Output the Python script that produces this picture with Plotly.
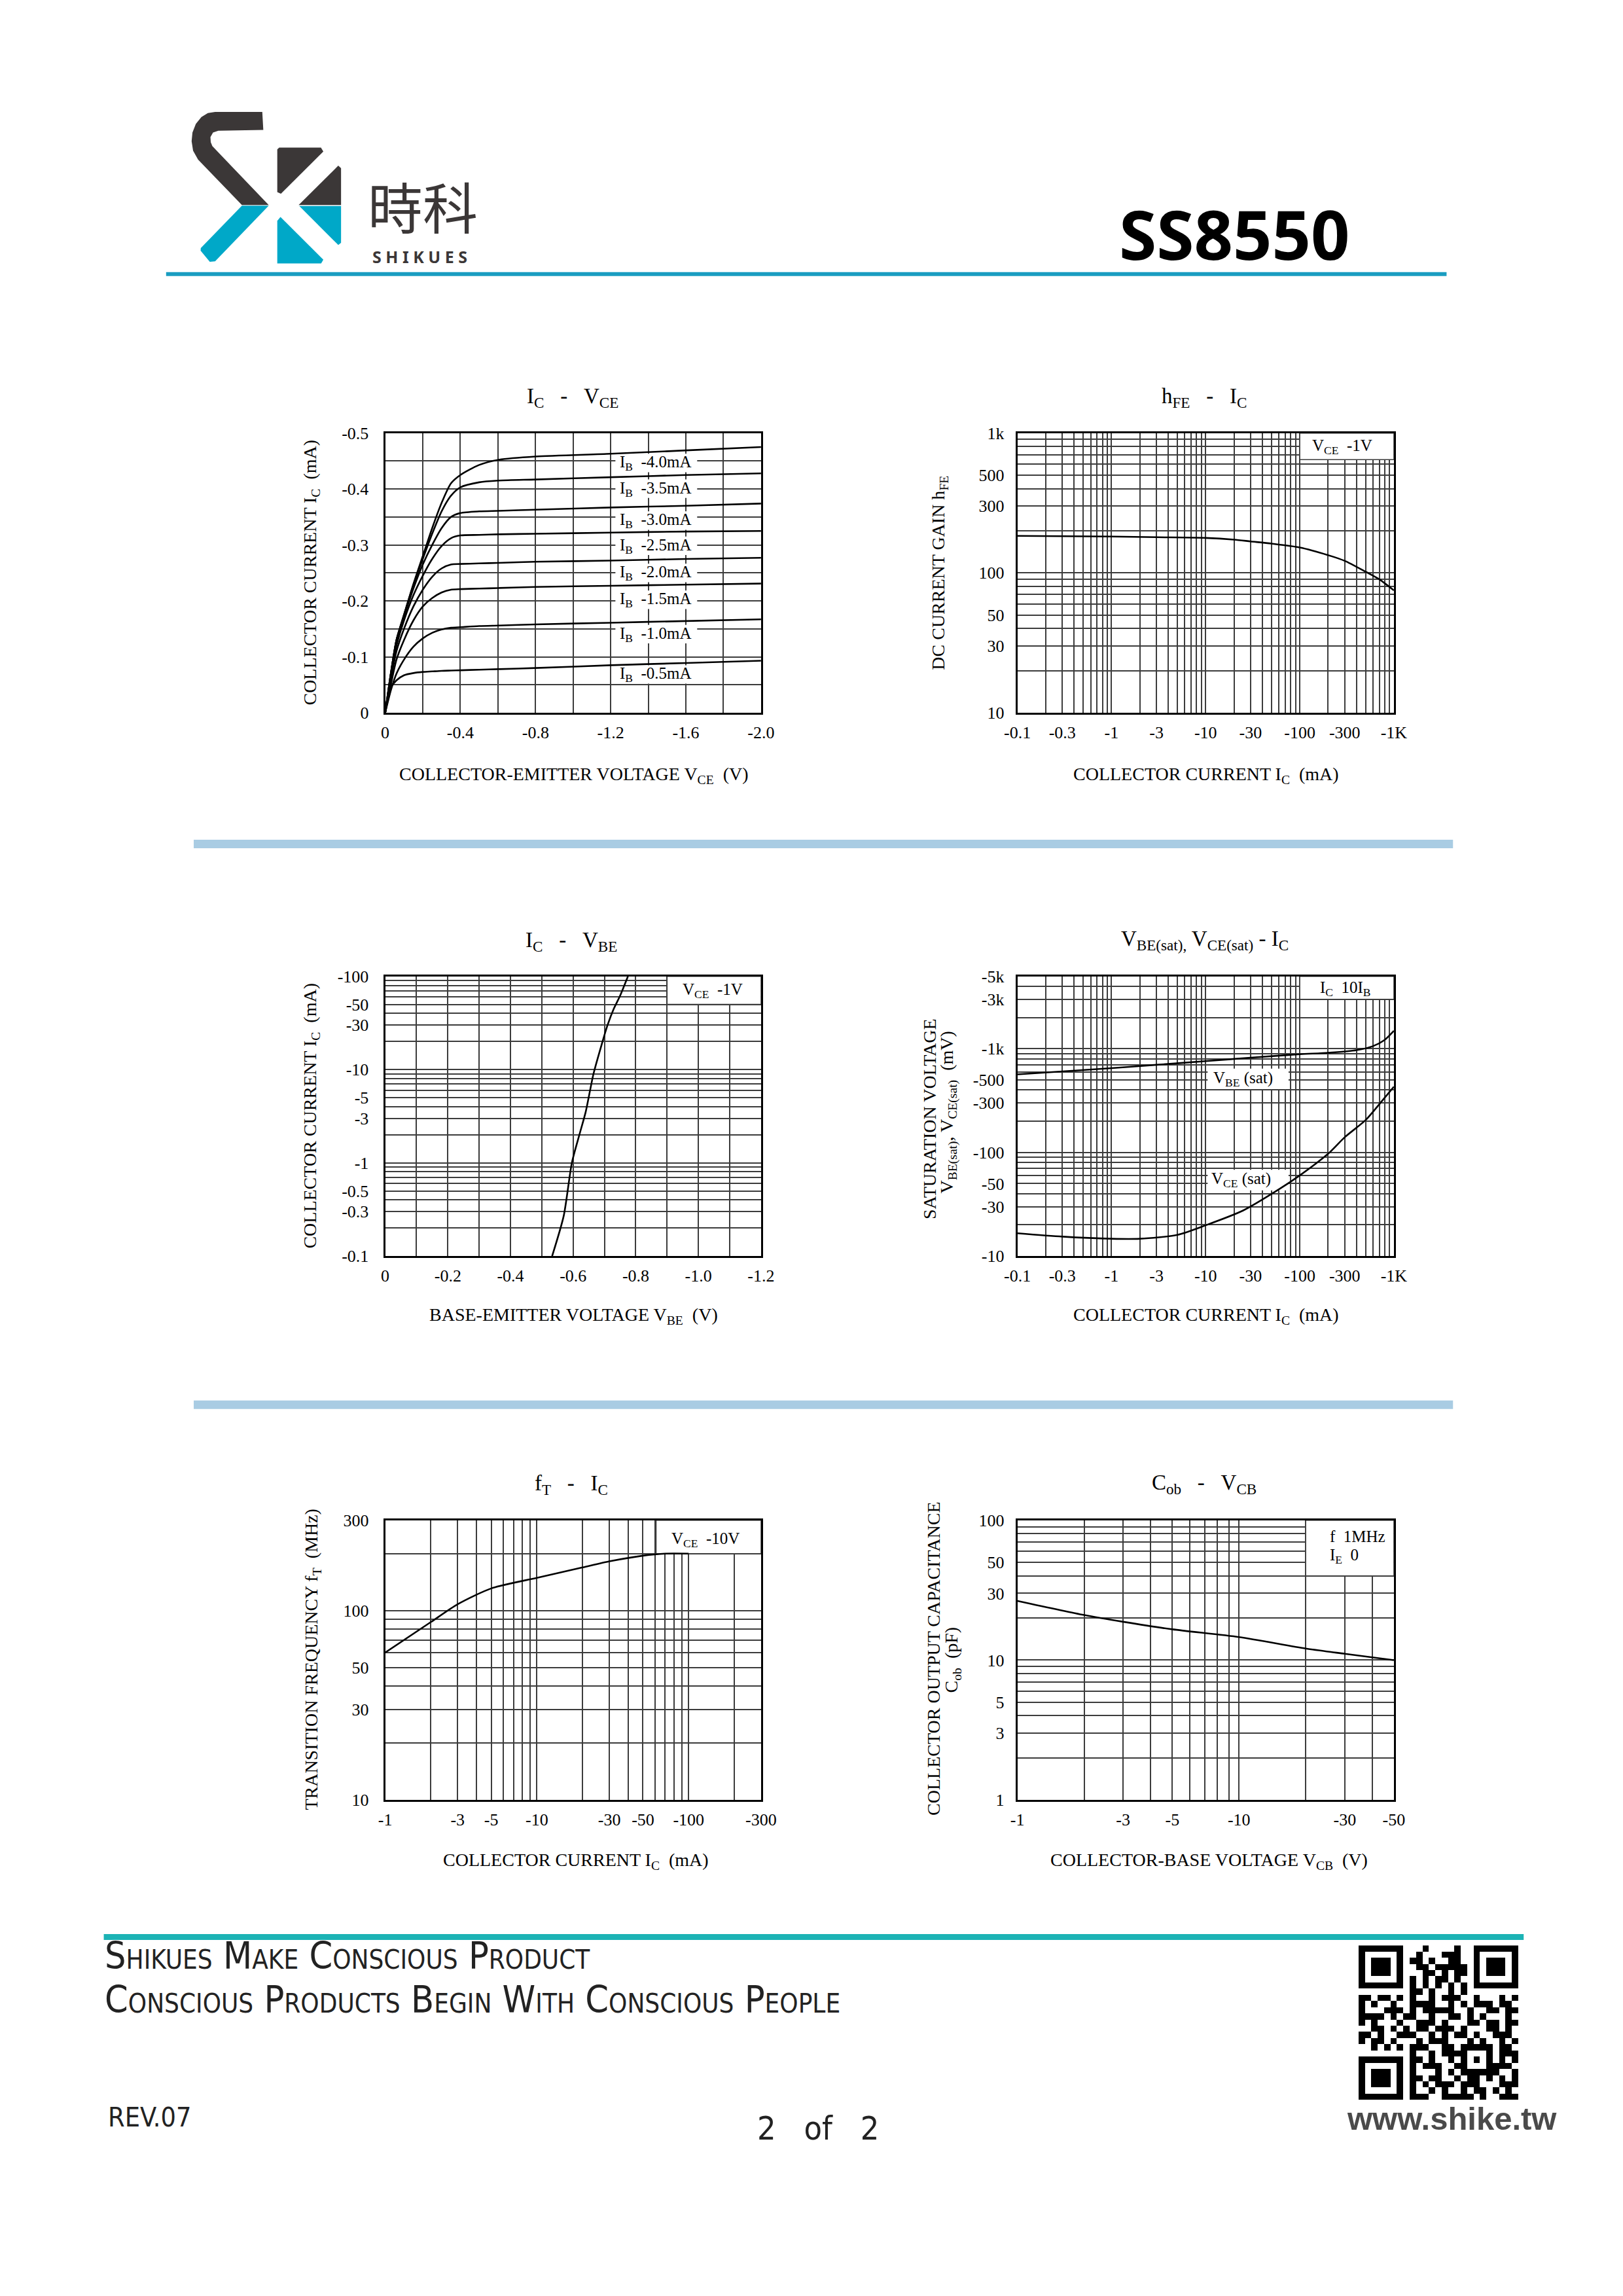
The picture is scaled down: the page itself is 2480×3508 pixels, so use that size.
import math
import plotly.graph_objects as go

# page size and the figure size (the page keeps its default 8px body margin)
W, H = 2480, 3508
PAD = 8
FW, FH = W - 2 * PAD, H - 2 * PAD
SERIF = "Liberation Serif"
DARK = "#3b3737"
CYAN = "#00a8c8"
GRID = "#3c3c3c"
NB = "\u00a0"

# ---------------- values ----------------
# Ic - Vce  (magnitudes, drawn as negative numbers)
vce_v = [0, 0.03, 0.06, 0.1, 0.15, 0.2, 0.25, 0.3, 0.35, 0.4, 0.5, 0.6, 0.8, 1.2, 1.6, 2.0]
ic_ib40 = [0, 0.07, 0.13, 0.175, 0.23, 0.28, 0.33, 0.375, 0.41, 0.425, 0.443, 0.452, 0.458, 0.463, 0.469, 0.475]
ic_ib35 = [0, 0.07, 0.13, 0.175, 0.228, 0.275, 0.32, 0.36, 0.388, 0.403, 0.412, 0.415, 0.417, 0.421, 0.425, 0.428]
ic_ib30 = [0, 0.07, 0.13, 0.172, 0.222, 0.265, 0.3, 0.33, 0.35, 0.357, 0.36, 0.361, 0.363, 0.367, 0.37, 0.374]
ic_ib25 = [0, 0.065, 0.12, 0.165, 0.21, 0.245, 0.275, 0.298, 0.312, 0.317, 0.318, 0.319, 0.32, 0.322, 0.324, 0.325]
ic_ib20 = [0, 0.06, 0.11, 0.15, 0.19, 0.22, 0.243, 0.258, 0.265, 0.266, 0.267, 0.268, 0.27, 0.272, 0.275, 0.277]
ic_ib15 = [0, 0.05, 0.095, 0.13, 0.165, 0.19, 0.205, 0.215, 0.22, 0.221, 0.222, 0.223, 0.225, 0.227, 0.229, 0.231]
ic_ib10 = [0, 0.04, 0.07, 0.095, 0.118, 0.133, 0.143, 0.149, 0.152, 0.153, 0.155, 0.156, 0.158, 0.161, 0.164, 0.167]
ic_ib05 = [0, 0.045, 0.058, 0.067, 0.071, 0.073, 0.074, 0.075, 0.0755, 0.076, 0.077, 0.078, 0.08, 0.085, 0.089, 0.093]
ib_names = ["-4.0mA", "-3.5mA", "-3.0mA", "-2.5mA", "-2.0mA", "-1.5mA", "-1.0mA", "-0.5mA"]
ib_label_y = [0.446, 0.400, 0.343, 0.298, 0.2495, 0.2015, 0.140, 0.068]

# hFE - Ic
hfe_ic = [0.1, 0.3, 1, 3, 10, 20, 30, 50, 100, 200, 300, 500, 700, 1000]
hfe_val = [184, 183, 182, 180, 178, 173, 168, 162, 152, 134, 122, 102, 90, 75]

# Ic - Vbe
vbe_v = [0.533, 0.57, 0.596, 0.62, 0.64, 0.665, 0.69, 0.71, 0.73, 0.75, 0.775]
vbe_ic = [0.1, 0.27, 1, 2, 3.5, 9, 18, 30, 45, 62, 100]

# Vbe(sat), Vce(sat) - Ic
sat_ic = [0.1, 0.3, 1, 3, 10, 30, 100, 200, 400, 600, 800, 1000]
vbe_sat = [566, 605, 650, 700, 760, 820, 885, 915, 970, 1060, 1220, 1490]
vcesat_ic = [0.1, 0.3, 1, 2, 5, 10, 25, 60, 100, 200, 300, 500, 750, 1000]
vce_sat = [16.6, 15.4, 14.7, 14.7, 16, 19.8, 27.5, 44, 60, 97, 140, 205, 315, 430]

# fT - Ic
ft_ic = [1, 2, 3, 5, 10, 20, 30, 50, 70, 100]
ft_val = [60, 87, 108, 131, 149, 169, 182, 195, 200, 200]

# Cob - Vcb
cob_v = [1, 2, 3, 5, 10, 20, 30, 50]
cob_c = [26.5, 21, 18.8, 16.6, 14.6, 12.1, 11.1, 10.0]

# tick labels
ic_log_ticks = [0.1, 0.3, 1, 3, 10, 30, 100, 300, 1000]
ic_log_text = ["-0.1", "-0.3", "-1", "-3", "-10", "-30", "-100", "-300", "-1K"]
hfe_ticks = [10, 30, 50, 100, 300, 500, 1000]
hfe_text = ["10", "30", "50", "100", "300", "500", "1k"]
vbe_ic_ticks = [0.1, 0.3, 0.5, 1, 3, 5, 10, 30, 50, 100]
vbe_ic_text = ["-0.1", "-0.3", "-0.5", "-1", "-3", "-5", "-10", "-30", "-50", "-100"]
sat_ticks = [10, 30, 50, 100, 300, 500, 1000, 3000, 5000]
sat_text = ["-10", "-30", "-50", "-100", "-300", "-500", "-1k", "-3k", "-5k"]
ft_x_ticks = [1, 3, 5, 10, 30, 50, 100, 300]
ft_x_text = ["-1", "-3", "-5", "-10", "-30", "-50", "-100", "-300"]
ft_y_ticks = [10, 30, 50, 100, 300]
ft_y_text = ["10", "30", "50", "100", "300"]
cob_x_ticks = [1, 3, 5, 10, 30, 50]
cob_x_text = ["-1", "-3", "-5", "-10", "-30", "-50"]
cob_y_ticks = [1, 3, 5, 10, 30, 50, 100]
cob_y_text = ["1", "3", "5", "10", "30", "50", "100"]
vce_ticks = [0, -0.4, -0.8, -1.2, -1.6, -2.0]
vce_text = ["0", "-0.4", "-0.8", "-1.2", "-1.6", "-2.0"]
ic1_ticks = [0, -0.1, -0.2, -0.3, -0.4, -0.5]
ic1_text = ["0", "-0.1", "-0.2", "-0.3", "-0.4", "-0.5"]
vbe_ticks = [0, -0.2, -0.4, -0.6, -0.8, -1.0, -1.2]
vbe_text = ["0", "-0.2", "-0.4", "-0.6", "-0.8", "-1.0", "-1.2"]

# plot frames in page pixels: x0, x1, y0(top), y1(bottom)
FRAMES = {
    1: (578, 1163, 653, 1084), 2: (1562, 2148, 653, 1084),
    3: (578, 1163, 1490, 1921), 4: (1562, 2148, 1490, 1921),
    5: (578, 1163, 2328, 2759), 6: (1562, 2148, 2328, 2759),
}
TICK = 26


def px(x):
    return (x - PAD) / FW


def py(y):
    return 1 - (y - PAD) / FH


def log_grid(lo, hi):
    vals = []
    for k in range(-2, 5):
        for m in range(1, 10):
            v = m * 10.0 ** k
            if lo * 0.999 <= v <= hi * 1.001:
                vals.append(v)
    return vals


def axes(n, x_kw, y_kw, y_standoff=17):
    x0, x1, y0, y1 = FRAMES[n]
    common = dict(showline=True, mirror=True, linecolor="black", linewidth=3,
                  showgrid=True, gridcolor=GRID, gridwidth=1.5, zeroline=False,
                  ticks="outside", ticklen=0, tickmode="array", fixedrange=True,
                  tickfont=dict(family=SERIF, size=TICK, color="black"))
    xa = dict(common, domain=[px(x0), px(x1)], anchor="y%d" % n, ticklabelstandoff=5, **x_kw)
    ya = dict(common, domain=[py(y1), py(y0)], anchor="x%d" % n, ticklabelstandoff=y_standoff, **y_kw)
    return xa, ya


def grid(vals):
    return dict(tickmode="array", tickvals=vals, showgrid=True, gridcolor=GRID, gridwidth=1.5, ticks="")


def ref(n):
    return ("x" if n == 1 else "x%d" % n), ("y" if n == 1 else "y%d" % n)


fig = go.Figure()


def box(n, x0, x1, y0, y1, border=True):
    # white panel that hides the grid (drawn before the curves)
    xr, yr = ref(n)
    fig.add_trace(go.Scatter(x=[x0, x1, x1, x0, x0], y=[y0, y0, y1, y1, y0], mode="lines",
                             fill="toself", fillcolor="white",
                             line=dict(color=GRID if border else "rgba(0,0,0,0)", width=1.5),
                             xaxis=xr, yaxis=yr, hoverinfo="skip"))


# chart 1 label panels
for yl in ib_label_y:
    box(1, -1.225, -1.66, -(yl - 0.016), -(yl + 0.017), border=False)
# condition panels
box(2, 100, 1000, 646, 1000)
box(3, -0.9, -1.2, 50, 100)
box(4, 100, 1000, 3000, 5000)
box(4, 10.5, 76, 408, 643, border=False)
box(4, 10.5, 76, 43, 68, border=False)
box(5, 61, 300, 200, 300)
box(6, 20, 50, 40, 100)

line = dict(color="black", width=2.6, shape="spline", smoothing=0.7)

# chart 1
for ic in [ic_ib40, ic_ib35, ic_ib30, ic_ib25, ic_ib20, ic_ib15, ic_ib10, ic_ib05]:
    fig.add_trace(go.Scatter(x=[-v for v in vce_v], y=[-i for i in ic], mode="lines",
                             line=line, xaxis="x", yaxis="y", hoverinfo="skip"))
# chart 2
fig.add_trace(go.Scatter(x=hfe_ic, y=hfe_val, mode="lines", line=line, xaxis="x2", yaxis="y2"))
# chart 3
fig.add_trace(go.Scatter(x=[-v for v in vbe_v], y=vbe_ic, mode="lines", line=line, xaxis="x3", yaxis="y3"))
# chart 4
fig.add_trace(go.Scatter(x=sat_ic, y=vbe_sat, mode="lines", line=line, xaxis="x4", yaxis="y4"))
fig.add_trace(go.Scatter(x=vcesat_ic, y=vce_sat, mode="lines", line=line, xaxis="x4", yaxis="y4"))
# chart 5
fig.add_trace(go.Scatter(x=ft_ic, y=ft_val, mode="lines", line=line, xaxis="x5", yaxis="y5"))
# chart 6
fig.add_trace(go.Scatter(x=cob_v, y=cob_c, mode="lines", line=line, xaxis="x6", yaxis="y6"))

lay = {}
lay["xaxis"], lay["yaxis"] = axes(
    1, dict(type="linear", range=[0, -2.0], tickvals=vce_ticks, ticktext=vce_text,
            minor=grid([-0.2 * i for i in range(11)])),
    dict(type="linear", range=[0, -0.5], tickvals=ic1_ticks, ticktext=ic1_text,
         minor=grid([-0.05 * i for i in range(11)])))

lay["xaxis2"], lay["yaxis2"] = axes(
    2, dict(type="log", range=[-1, 3], tickvals=ic_log_ticks, ticktext=ic_log_text,
            minor=grid(log_grid(0.1, 1000))),
    dict(type="log", range=[1, 3], tickvals=hfe_ticks, ticktext=hfe_text,
         minor=grid(log_grid(10, 1000))), y_standoff=12)

lay["xaxis3"], lay["yaxis3"] = axes(
    3, dict(type="linear", range=[0, -1.2], tickvals=vbe_ticks, ticktext=vbe_text,
            minor=grid([-0.1 * i for i in range(13)])),
    dict(type="log", range=[-1, 2], tickvals=vbe_ic_ticks, ticktext=vbe_ic_text,
         minor=grid(log_grid(0.1, 100))))

lay["xaxis4"], lay["yaxis4"] = axes(
    4, dict(type="log", range=[-1, 3], tickvals=ic_log_ticks, ticktext=ic_log_text,
            minor=grid(log_grid(0.1, 1000))),
    dict(type="log", range=[1, math.log10(5000)], tickvals=sat_ticks, ticktext=sat_text,
         minor=grid(log_grid(10, 5000))), y_standoff=12)

lay["xaxis5"], lay["yaxis5"] = axes(
    5, dict(type="log", range=[0, math.log10(300)], tickvals=ft_x_ticks, ticktext=ft_x_text,
            minor=grid(log_grid(1, 300))),
    dict(type="log", range=[1, math.log10(300)], tickvals=ft_y_ticks, ticktext=ft_y_text,
         minor=grid(log_grid(10, 300))))

lay["xaxis6"], lay["yaxis6"] = axes(
    6, dict(type="log", range=[0, math.log10(50)], tickvals=cob_x_ticks, ticktext=cob_x_text,
            minor=grid(log_grid(1, 50))),
    dict(type="log", range=[0, 2], tickvals=cob_y_ticks, ticktext=cob_y_text,
         minor=grid(log_grid(1, 100))), y_standoff=12)

shapes = []
ann = []


def text(x, y, s, size, **kw):
    d = dict(x=x, y=y, text=s, showarrow=False, font=dict(family=SERIF, size=size, color="black"),
             xanchor="center", yanchor="middle")
    d.update(kw)
    if "xref" not in d:
        d["xref"] = "paper"
        d["yref"] = "paper"
        d["x"] = px(x)
        d["y"] = py(y)
    ann.append(d)


def dtext(n, x, y, s, size=25, **kw):
    xr, yr = ref(n)
    text(x, y, s, size, xref=xr + " domain", yref=yr + " domain", **kw)


# chart 1 curve labels
for name, yl in zip(ib_names, ib_label_y):
    text(-1.24, -yl, "I<sub>B</sub>" + NB * 2 + name, 25, xref="x", yref="y", xanchor="left")

# condition texts
dtext(2, 0.862, 0.952, "V<sub>CE</sub>" + NB * 2 + "-1V")
dtext(3, 0.872, 0.948, "V<sub>CE</sub>" + NB * 2 + "-1V")
dtext(4, 0.872, 0.955, "I<sub>C</sub>" + NB * 2 + "10I<sub>B</sub>")
dtext(4, 0.60, 0.633, "V<sub>BE</sub> (sat)")
dtext(4, 0.595, 0.272, "V<sub>CE</sub> (sat)")
dtext(5, 0.853, 0.93, "V<sub>CE</sub>" + NB * 2 + "-10V")
dtext(6, 0.826, 0.942, "f" + NB * 2 + "1MHz", xanchor="left")
dtext(6, 0.826, 0.872, "I<sub>E</sub>" + NB * 2 + "0", xanchor="left")

# chart titles
sep = NB * 3 + "-" + NB * 3
TT = 33
text(870, 598, "I<sub>C</sub>" + sep + "V<sub>CE</sub>", TT)
text(1853, 598, "h<sub>FE</sub>" + sep + "I<sub>C</sub>", TT)
text(868, 1436, "I<sub>C</sub>" + sep + "V<sub>BE</sub>", TT)
text(1854, 1434, "V<sub>BE(sat),</sub> V<sub>CE(sat)</sub> - I<sub>C</sub>", TT)
text(868, 2273, "f<sub>T</sub>" + sep + "I<sub>C</sub>", TT)
text(1853, 2272, "C<sub>ob</sub>" + sep + "V<sub>CB</sub>", TT)

# axis titles
AT = 28
ic_ma = "COLLECTOR CURRENT I<sub>C</sub>" + NB * 2 + "(mA)"
text(872, 1180, "COLLECTOR-EMITTER VOLTAGE V<sub>CE</sub>" + NB * 2 + "(V)", AT)
text(1856, 1180, ic_ma, AT)
text(871, 2013, "BASE-EMITTER VOLTAGE V<sub>BE</sub>" + NB * 2 + "(V)", AT)
text(1856, 2013, ic_ma, AT)
text(875, 2853, ic_ma, AT)
text(1860, 2853, "COLLECTOR-BASE VOLTAGE V<sub>CB</sub>" + NB * 2 + "(V)", AT)
text(463, 868, ic_ma, AT, textangle=-90)
text(1441, 868, "DC CURRENT GAIN h<sub>FE</sub>", AT, textangle=-90)
text(463, 1705, ic_ma, AT, textangle=-90)
text(1426, 1710, "SATURATION VOLTAGE", AT, textangle=-90)
text(1454, 1700, "V<sub>BE(sat)</sub>, V<sub>CE(sat)</sub>" + NB * 2 + "(mV)", AT, textangle=-90)
text(465, 2543, "TRANSITION FREQUENCY f<sub>T</sub>" + NB * 2 + "(MHz)", AT, textangle=-90)
text(1432, 2541, "COLLECTOR OUTPUT CAPACITANCE", AT, textangle=-90)
text(1462, 2543, "C<sub>ob</sub>" + NB * 2 + "(pF)", AT, textangle=-90)


# ---------------- page decoration ----------------
def poly(points, color):
    d = "M " + " L ".join("%.5f,%.5f" % (px(x), py(y)) for x, y in points) + " Z"
    shapes.append(dict(type="path", xref="paper", yref="paper", path=d, fillcolor=color,
                       line=dict(width=0), layer="above"))


poly([(386.7, 158.3), (388.3, 186), (318.3, 187.3), (310, 190), (306, 197), (306.5, 205), (309, 211),
      (396.7, 301.7), (355, 301.7), (286.7, 231.7), (279, 218), (276.7, 203.3), (278, 190),
      (283.3, 176.7), (292, 166), (302, 160), (313.3, 158.3)], DARK)
poly([(355, 302.7), (396.7, 302.7), (313.3, 388.3), (305, 389.3), (290.7, 372), (291, 368)], CYAN)
poly([(410, 216), (413, 213.3), (478, 213.3), (481.7, 219.3), (415.7, 284.3), (410, 281.7)], DARK)
poly([(443.3, 301.7), (505, 241), (509.3, 245), (509.3, 301.7)], DARK)
poly([(444.3, 303.3), (509.3, 303.3), (509.3, 360), (505, 363.3)], CYAN)
poly([(410, 326), (415, 320), (481.7, 386), (478.3, 391.7), (410, 391.7)], CYAN)


def hline(x0, x1, y, color, width):
    shapes.append(dict(type="line", xref="paper", yref="paper", x0=px(x0), x1=px(x1), y0=py(y), y1=py(y),
                       line=dict(color=color, width=width), layer="above"))


hline(237, 2230, 408, "#1a9dc1", 6)
hline(280, 2240, 1286, "#a9cce3", 13)
hline(280, 2240, 2150, "#a9cce3", 13)
hline(140, 2350, 2970, "#1cb3b5", 9)

ann.append(dict(x=px(636), y=py(302), xref="paper", yref="paper", text="時科", showarrow=False,
                font=dict(family="Noto Sans CJK TC", size=84, color=DARK), xanchor="center", yanchor="middle"))
ann.append(dict(x=px(632), y=py(381), xref="paper", yref="paper", text="S H I K U E S", showarrow=False,
                font=dict(family="Noto Sans", size=25, color=DARK, weight=700), xanchor="center", yanchor="middle"))
ann.append(dict(x=px(1900), y=py(345), xref="paper", yref="paper", text="SS8550", showarrow=False,
                font=dict(family="Noto Sans", size=104, color="black", weight=700), xanchor="center", yanchor="middle"))

FOOT = dict(family="DejaVu Sans Condensed", size=57, color="#222222", variant="small-caps")
ann.append(dict(x=px(139), y=py(2999), xref="paper", yref="paper", text="Shikues Make Conscious Product",
                showarrow=False, xanchor="left", yanchor="middle", font=FOOT))
ann.append(dict(x=px(139), y=py(3066), xref="paper", yref="paper",
                text="Conscious Products Begin With Conscious People",
                showarrow=False, xanchor="left", yanchor="middle", font=FOOT))
ann.append(dict(x=px(145), y=py(3248), xref="paper", yref="paper", text="REV.07", showarrow=False,
                xanchor="left", yanchor="middle",
                font=dict(family="DejaVu Sans Condensed", size=41, color="#222222")))
ann.append(dict(x=px(1252), y=py(3265), xref="paper", yref="paper", text="2" + NB * 3 + "of" + NB * 3 + "2",
                showarrow=False, xanchor="center", yanchor="middle",
                font=dict(family="DejaVu Sans Condensed", size=50, color="#222222")))
ann.append(dict(x=px(2238), y=py(3250), xref="paper", yref="paper", text="www.shike.tw", showarrow=False,
                xanchor="center", yanchor="middle",
                font=dict(family="Liberation Sans", size=49, color="#4a4a4a", weight=700)))

# QR code modules (hand copied pattern, fixed structures overlaid below)
qr_rows = [
    "..........#....#.........",
    ".........#...###.........",
    "........##.#..##.........",
    ".........##.#####........",
    "..........##.#.##........",
    "........#.#.##.#.........",
    ".........................",
    "........##.#..#.#........",
    "##.##.#.#..#.###..#...#.#",
    "#.#..##.####..#.#.###.##.",
    "#...##..#.#####..#..##.##",
    "####.#.##..#..##.#.#...#.",
    "#.#...#..###.#...##.##.##",
    "..##.#.#.##.###.#...##.#.",
    "##.#..###..#.#.##.#..###.",
    "#.##.##..#.###...#.#..#.#",
    "..#.#.#.###..##.#####.##.",
    "........#..#.####...#.###",
    "........##.#..#.#.#.#.#.#",
    "........#.###..##...####.",
    "........#...#.#.######..#",
    "........##.##..#.##.#.#.#",
    "........#.#.###.###...###",
    "........#..#.#..#.##.#.#.",
    "........###..#####.#..###",
]
N = 25
qr = [[1 if c < len(r) and r[c] == "#" else 0 for c in range(N)] for r in qr_rows]


def finder(r0, c0):
    for dr in range(-1, 8):
        for dc in range(-1, 8):
            r, c = r0 + dr, c0 + dc
            if 0 <= r < N and 0 <= c < N:
                if 0 <= dr <= 6 and 0 <= dc <= 6:
                    ring = dr in (0, 6) or dc in (0, 6)
                    core = 2 <= dr <= 4 and 2 <= dc <= 4
                    qr[r][c] = 1 if (ring or core) else 0
                else:
                    qr[r][c] = 0


finder(0, 0)
finder(0, 18)
finder(18, 0)
for i in range(8, 17):
    qr[6][i] = 1 if i % 2 == 0 else 0
    qr[i][6] = 1 if i % 2 == 0 else 0
for dr in range(5):
    for dc in range(5):
        ring = dr in (0, 4) or dc in (0, 4)
        qr[16 + dr][16 + dc] = 1 if (ring or (dr == 2 and dc == 2)) else 0

fig.add_trace(go.Heatmap(z=qr, xaxis="x7", yaxis="y7", colorscale=[[0, "white"], [1, "black"]],
                         showscale=False, zmin=0, zmax=1, hoverinfo="skip"))
lay["xaxis7"] = dict(domain=[px(2093), px(2342)], range=[-0.5, N - 0.5], visible=False, anchor="y7",
                     fixedrange=True)
lay["yaxis7"] = dict(domain=[py(3221), py(2983)], range=[N - 0.5, -0.5], visible=False, anchor="x7",
                     fixedrange=True)

fig.update_layout(
    width=FW, height=FH, margin=dict(l=0, r=0, t=0, b=0),
    paper_bgcolor="white", plot_bgcolor="white", showlegend=False,
    font=dict(family=SERIF, color="black"),
    shapes=shapes, annotations=ann, **lay,
)

fig.write_html("out.html", config={"displayModeBar": False})
